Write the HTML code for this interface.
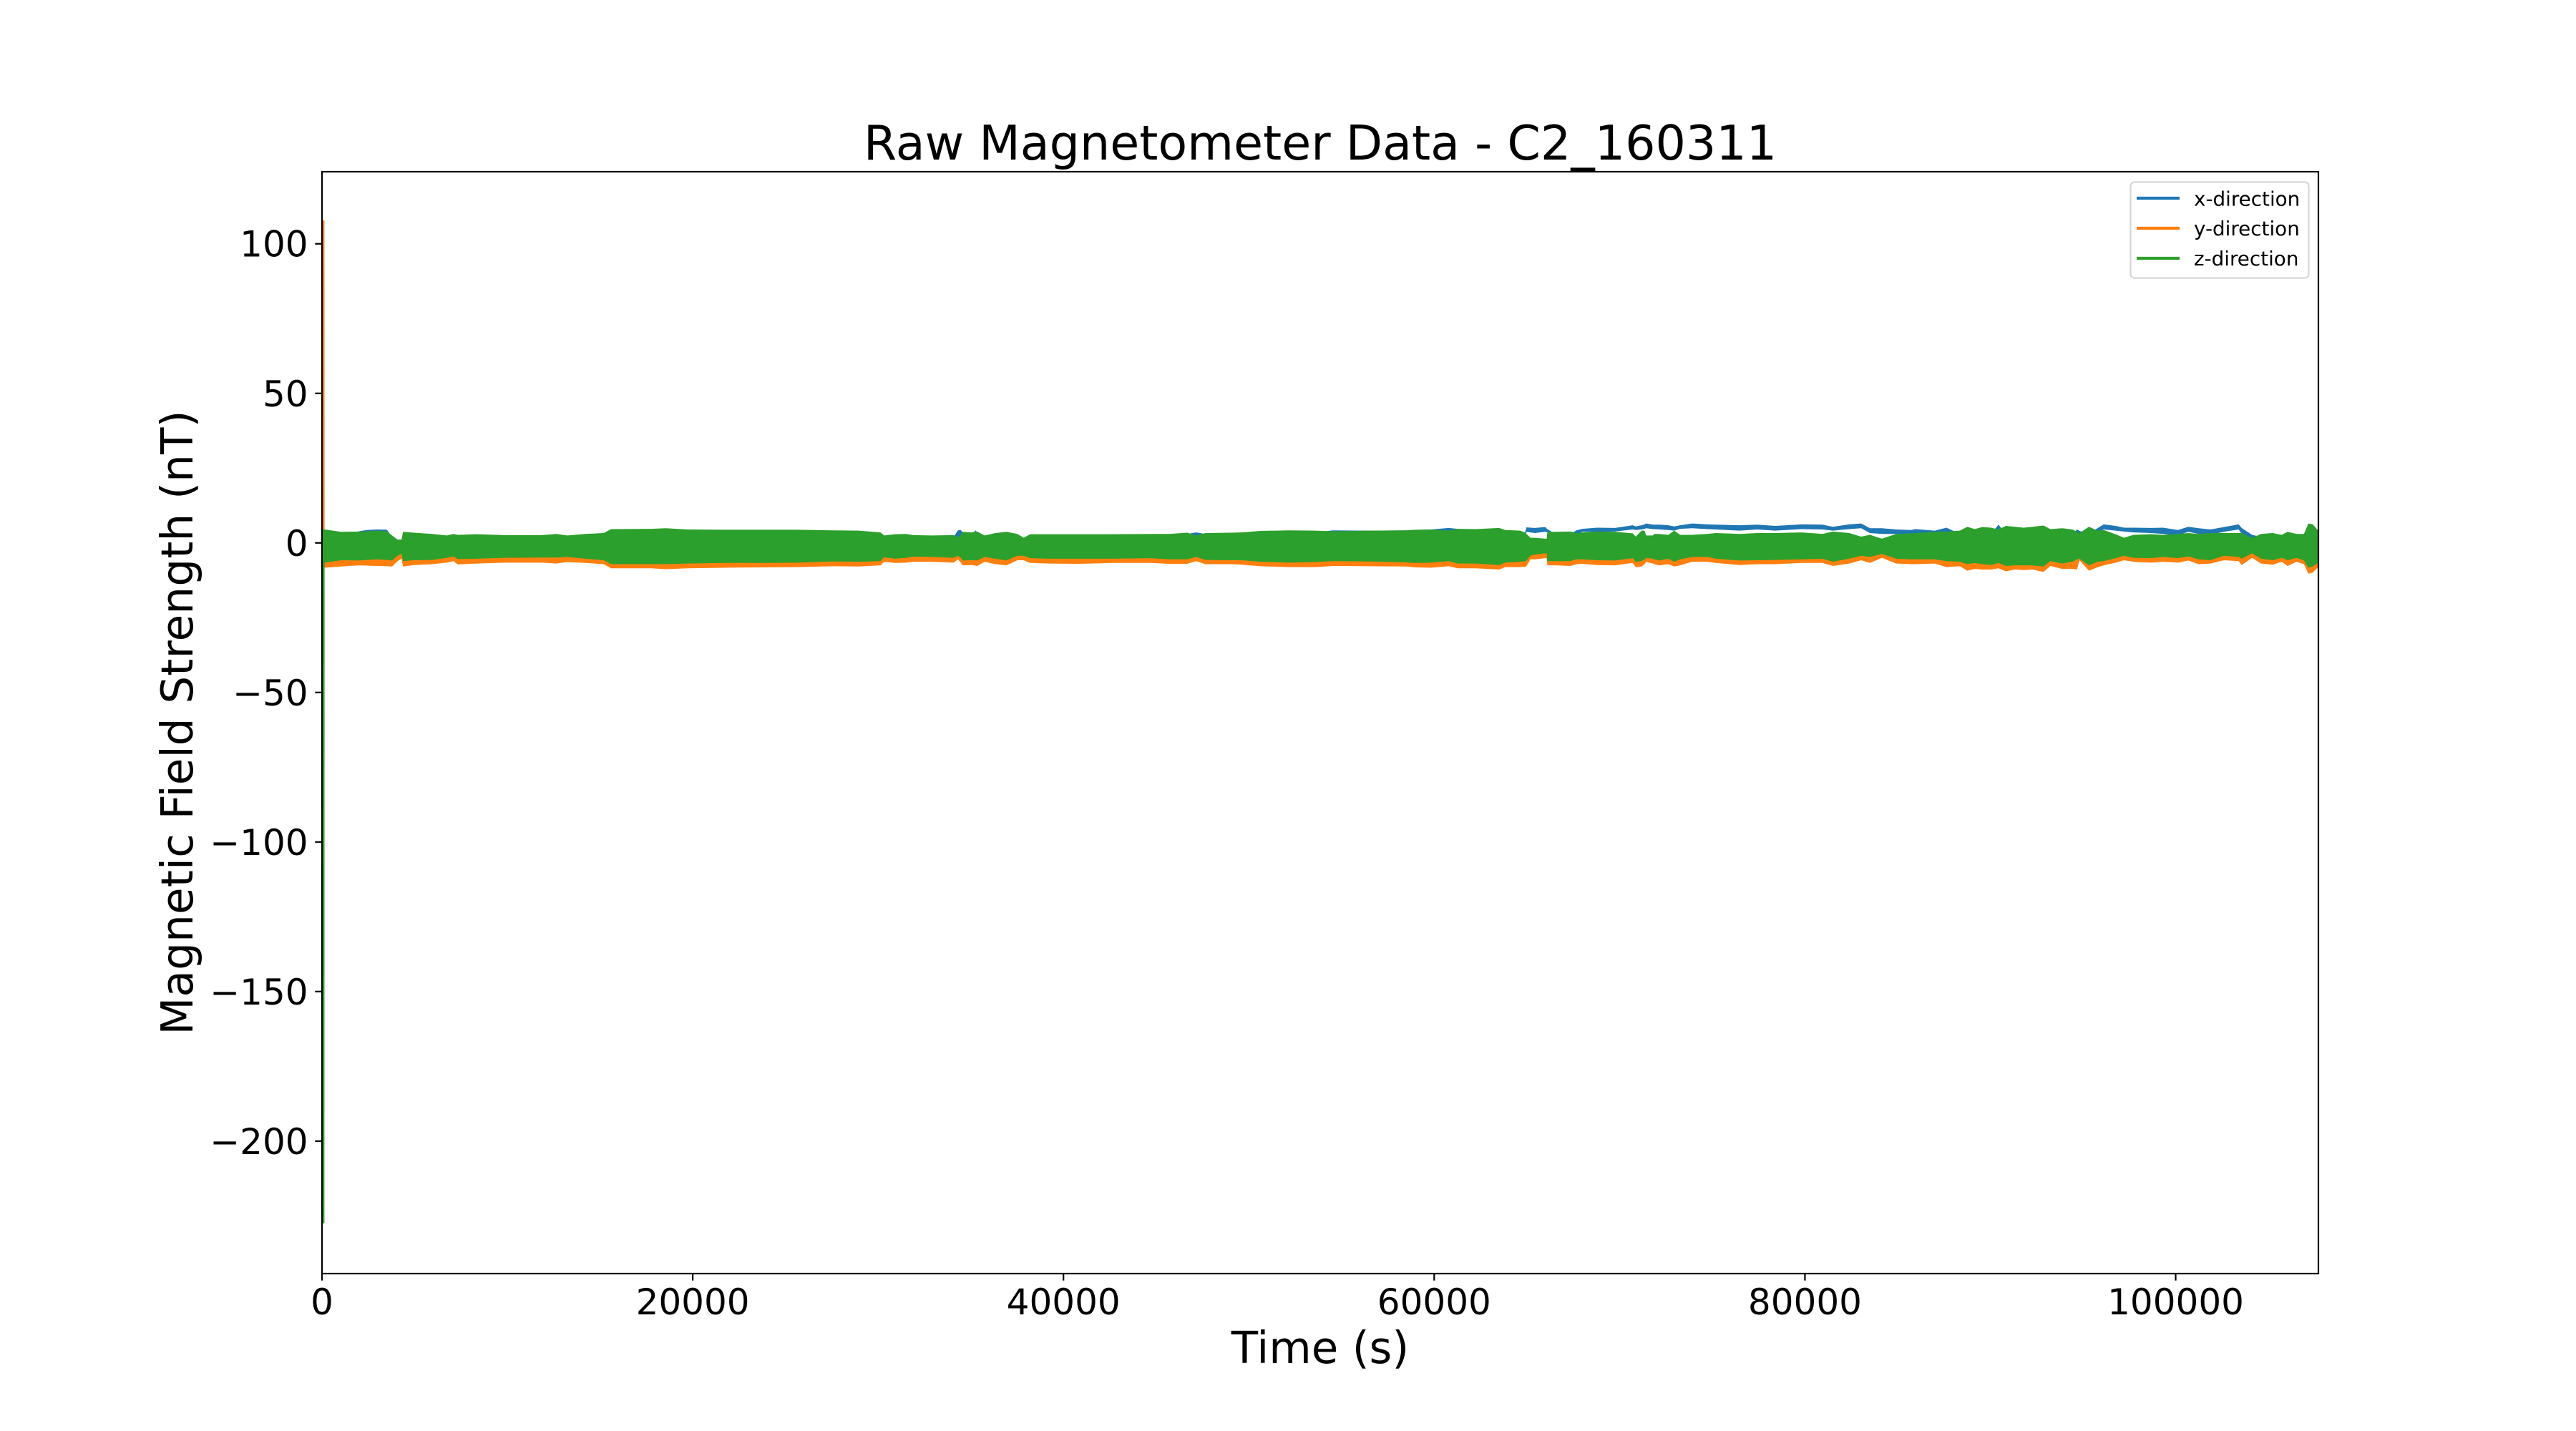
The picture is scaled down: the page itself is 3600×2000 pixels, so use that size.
<!DOCTYPE html>
<html>
<head>
<meta charset="utf-8">
<title>Raw Magnetometer Data - C2_160311</title>
<style>
html,body{margin:0;padding:0;background:#fff;}
svg{display:block;}
text{font-family:"DejaVu Sans",sans-serif;fill:#000;}
</style>
</head>
<body>
<svg id="chart" xmlns="http://www.w3.org/2000/svg" width="3600" height="2000" viewBox="0 0 3600 2000">
  <rect x="0" y="0" width="3600" height="2000" fill="#fff"/>
  <defs><clipPath id="plot-clip"><rect x="450" y="240" width="2790" height="1540"/></clipPath></defs>
  <g id="series" clip-path="url(#plot-clip)"></g>
  <rect x="450" y="240" width="2790" height="1540" fill="none" stroke="#000" stroke-width="2.2"/>
  <g id="ticks"></g>
  <text x="1845" y="223" font-size="66.67" text-anchor="middle">Raw Magnetometer Data - C2_160311</text>
  <text x="1845" y="1905" font-size="61.1" text-anchor="middle">Time (s)</text>
  <text x="269" y="1010" font-size="61.1" text-anchor="middle" textLength="873" lengthAdjust="spacing" transform="rotate(-90 269 1010)">Magnetic Field Strength (nT)</text>
  <g>
    <rect x="2977.5" y="254.5" width="249" height="134" rx="5.6" ry="5.6" fill="#fff" fill-opacity="0.8" stroke="#ccc" stroke-opacity="0.8" stroke-width="2.2"/>
    <line x1="2986" y1="277" x2="3046" y2="277" stroke="#1f77b4" stroke-width="4.17"/>
    <text x="3066" y="287.5" font-size="27.8">x-direction</text>
    <line x1="2986" y1="319" x2="3046" y2="319" stroke="#ff7f0e" stroke-width="4.17"/>
    <text x="3066" y="329" font-size="27.8">y-direction</text>
    <line x1="2986" y1="361" x2="3046" y2="361" stroke="#2ca02c" stroke-width="4.17"/>
    <text x="3066" y="371" font-size="27.8">z-direction</text>
  </g>
</svg>
<script>
const xTickValues = [0,20000,40000,60000,80000,100000];
const yTickValues = [100,50,0,-50,-100,-150,-200];

const times = [
0,130,140,1024,2008,2400,2993,3500,3780,4075,
4292,4371,4962,5946,6734,7088,7324,8309,9884,11853,
12641,13231,14216,15200,15594,17760,18548,19729,21698,23667,
25636,27605,28950,30131,30328,30919,31510,31904,32888,34069,
34306,34463,34562,35054,35250,35349,35743,36334,36924,37515,
37850,38204,39189,40764,42733,44702,45687,46670,47163,47656,
49034,49625,50609,52184,53563,54547,56516,58485,58977,59830,
60790,61270,62230,63510,63830,64630,64900,64982,65190,65430,
65990,66070,66102,66550,67350,67670,67990,68790,69750,70710,
70870,71190,71350,71430,71800,71860,72150,72630,72950,73270,
73910,74710,75190,76470,77430,78390,79830,80950,81510,82390,
83030,83510,84150,84920,85720,85960,87000,87640,88360,88760,
89160,89560,90040,90440,90840,91320,91800,92280,92870,93240,
93880,94440,94680,94810,95320,95800,96120,96760,97210,97720,
98680,99320,100120,100680,101240,101880,102600,103400,103560,104120,
104600,105240,105720,106040,106520,106920,107160,107400,107690];

const xUpper = [
2,2,2,2,3.9,4.3,4.5,4.4,2,0.5,
0.5,2,2,2,2,2,2,2,2,2,
2,2,2,2,2,2,2,2,2,2,
2,2,2,2,2,2,2,2,2,2,
4.2,4.3,3.5,2.5,4.2,3.5,2,2,2,2,
0.5,2,2,2,2,2,2,3,3.5,3,
2,2,3,3,3.5,4.2,4.1,4.2,4.3,4.5,
5,4.7,4,4,3.5,3.5,3.5,5.2,5.1,5.0,
5.3,4.8,4.6,3,3,4.2,4.7,5.1,5.0,5.9,
5.5,5.9,6.2,6.5,6.1,6.1,6.1,5.9,5.5,5.9,
6.5,6.2,6.1,5.9,6.1,5.7,6.2,6.1,5.4,6.2,
6.5,4.9,4.9,4.5,4.3,4.6,4.1,5.1,3,3,
3,3,3,6.1,3,3,3,3,3,3,
3,3,4.5,4,3,5,6.2,5.7,5.1,5.1,
5.0,5.1,4.3,5.4,4.9,4.5,5.3,6.2,5.0,2.7,
2,2,2,2,2,2,2,2,2];

const xLower = [
0.5,0.5,0.5,0.5,3,3,3.2,3,0.5,-1,
-1,0.5,0.5,0.5,0.5,0.5,0.5,0.5,0.5,0.5,
0.5,0.5,0.5,0.5,0.5,0.5,0.5,0.5,0.5,0.5,
0.5,0.5,0.5,0.5,0.5,0.5,0.5,0.5,0.5,0.5,
2,2,1.5,1,2.5,2,0.5,0.5,0.5,0.5,
-1,0.5,0.5,0.5,0.5,0.5,0.5,1.5,2.2,1.5,
0.5,0.5,1.5,1.5,2,2.8,2.7,2.8,2.8,3.3,
3.3,3,2.5,2.5,2,2,2,3.7,3.5,3.3,
3.7,3.5,3.7,1.5,1.5,2.7,3.7,3.7,3.8,4.5,
4.3,4.5,4.7,4.9,4.6,4.6,4.5,4.3,4.1,4.7,
4.9,4.6,4.5,4.1,4.5,4.1,4.6,4.5,4.1,4.6,
4.9,3.3,3.0,3.0,3.0,3.0,2.9,3.7,1.5,1.5,
1.5,1.5,1.5,4.6,1.5,1.5,1.5,1.5,1.5,1.5,
1.5,1.5,3,2.5,1.5,3.5,4.5,4.1,3.8,3.5,
3.3,3.0,2.5,3.7,3.0,2.7,3.7,4.5,3.0,1.3,
0.5,0.5,0.5,0.5,0.5,0.5,0.5,0.5,0.5];

const yUpper = [
107.8,107.8,-5.6,-4.8,-4.9,-4.7,-4.5,-4.7,-4.9,-3.3,
-2.7,-5.1,-4.8,-4.7,-4.0,-3.5,-4.4,-4.3,-4.0,-3.9,
-3.9,-3.7,-4.3,-4.8,-6.1,-6.1,-6.1,-5.9,-5.7,-5.7,
-5.6,-5.2,-5.3,-5.1,-3.8,-4.3,-4.0,-3.6,-3.7,-4.0,
-3.3,-4,-4.9,-4.8,-4.8,-4.9,-3.7,-4.3,-4.9,-3.3,
-3.3,-4.1,-4.3,-4.3,-4.3,-4.1,-4.5,-4.5,-3.7,-4.7,
-4.8,-4.8,-5.3,-5.6,-5.4,-5.1,-5.2,-5.5,-5.7,-5.6,
-5.1,-5.9,-5.9,-6.4,-5.6,-5.3,-5.2,-4.9,-3.3,-2.9,
-2.5,-2.5,-5.1,-5.1,-5.1,-4.5,-4.5,-4.8,-4.9,-4.1,
-5.3,-5.1,-4.5,-4.0,-4.3,-4.5,-4.9,-4.3,-5.3,-4.5,
-3.7,-3.7,-4.3,-4.9,-4.8,-4.7,-4.5,-4.3,-5.3,-4.3,
-3.3,-3.7,-2.7,-4.3,-4.5,-4.5,-4.5,-5.1,-5.3,-6.1,
-5.7,-6.1,-6.4,-5.7,-6.7,-6.5,-6.5,-6.5,-6.9,-5.1,
-5.9,-5.3,-4.5,-4.3,-6.5,-5.3,-5.1,-4.1,-3.3,-4.0,
-4.1,-3.7,-4.1,-3.5,-4.5,-4.8,-3.3,-3.7,-4.3,-2.5,
-4.3,-4.8,-4.0,-4.8,-4.0,-4.9,-7.3,-6.9,-5.6];

const yLower = [
-8.3,-8.3,-8.3,-7.9,-7.5,-7.6,-7.7,-7.8,-7.9,-6.1,
-5.3,-7.9,-7.4,-7.1,-6.6,-6.1,-7.2,-6.9,-6.6,-6.6,
-6.9,-6.4,-6.7,-7.1,-8.5,-8.5,-8.8,-8.5,-8.3,-8.2,
-8.1,-7.8,-7.9,-7.5,-6.3,-6.7,-6.6,-6.3,-6.3,-6.6,
-5.5,-6.6,-7.5,-7.4,-7.6,-7.7,-6.3,-7.1,-7.5,-5.8,
-5.8,-6.7,-6.9,-7.0,-6.7,-6.7,-7.0,-7.0,-6.1,-7.1,
-7.1,-7.3,-7.8,-8.1,-8.1,-7.7,-7.8,-7.9,-8.2,-8.3,
-7.8,-8.5,-8.5,-8.9,-8.1,-8.1,-8,-7.7,-5.5,-5.5,
-5.1,-5.1,-7.5,-7.5,-7.7,-7.1,-7.0,-7.4,-7.5,-6.7,
-8.1,-7.9,-7.1,-6.3,-6.9,-7.1,-7.5,-7.1,-7.9,-7.5,
-6.3,-6.3,-6.7,-7.4,-7.1,-7.1,-6.7,-6.7,-7.7,-6.9,
-5.8,-6.7,-5.0,-6.9,-7.1,-7.1,-6.9,-8.1,-7.8,-9.3,
-8.7,-8.9,-8.9,-8.5,-9.5,-8.9,-9.1,-8.9,-9.7,-7.7,
-8.7,-8.7,-8.9,-5.8,-9.3,-8.1,-7.5,-6.6,-5.8,-6.3,
-6.6,-6.3,-6.6,-5.9,-7.1,-6.9,-5.8,-6.1,-7.4,-5.0,
-6.9,-7.3,-6.3,-7.7,-6.3,-7.1,-10.3,-9.9,-8.1];

const zUpper = [
4.5,4.5,4.5,3.7,3.8,3.9,4.1,3.9,2.5,1.1,
1.1,3.7,3.4,3.0,2.5,3.0,2.7,2.9,2.6,2.6,
3.0,2.5,3.0,3.3,4.6,4.7,4.9,4.5,4.4,4.4,
4.4,4.2,4.1,3.5,2.5,2.9,3.0,2.6,2.5,2.6,
1.9,2.8,3.7,3.5,3.7,3.8,2.5,3.3,3.7,3.0,
1.7,2.9,2.9,2.9,2.9,3.0,3.0,3.4,2.5,3.3,
3.4,3.5,4.0,4.2,4.1,3.9,4.1,4.2,4.4,4.5,
4.1,4.7,4.6,5.0,4.3,4.1,3.5,3.0,1.7,1.7,
1.4,1.4,3.7,3.7,3.8,3.3,3.5,3.8,3.7,3.2,
2.1,4.1,4.1,2.5,2.5,3.0,3.0,2.7,4.1,2.7,
2.7,3.0,3.3,3.0,3.3,3.3,3.5,3.0,3.8,3.3,
2.1,2.7,1.4,3.0,3.2,3.3,3.7,3.8,4.1,5.4,
4.6,5.3,5.1,4.5,5.7,5.4,5.1,5.4,5.8,4.6,
4.9,4.5,3.7,3.3,5.4,4.1,4.3,2.9,1.7,2.7,
2.9,2.7,3.0,3.3,3.0,3.3,3.3,3.3,3.3,1.7,
3.0,3.3,2.7,3.7,3.0,3.0,6.5,6.2,4.1];

const zLower = [
-227.5,-227.5,-6.6,-5.8,-5.9,-5.7,-5.5,-5.7,-5.9,-4.3,
-3.7,-6.1,-5.8,-5.7,-5.0,-4.5,-5.4,-5.3,-5.0,-4.9,
-4.9,-4.7,-5.3,-5.8,-7.1,-7.1,-7.1,-6.9,-6.7,-6.7,
-6.6,-6.2,-6.3,-6.1,-4.8,-5.3,-5.0,-4.6,-4.7,-5.0,
-4.3,-5,-5.9,-5.8,-5.8,-5.9,-4.7,-5.3,-5.9,-4.3,
-4.3,-5.1,-5.3,-5.3,-5.3,-5.1,-5.5,-5.5,-4.7,-5.7,
-5.8,-5.8,-6.3,-6.6,-6.4,-6.1,-6.2,-6.5,-6.7,-6.6,
-6.1,-6.9,-6.9,-7.4,-6.6,-6.3,-6.2,-5.9,-4.3,-3.9,
-3.5,-3.5,-6.1,-6.1,-6.1,-5.5,-5.5,-5.8,-5.9,-5.1,
-6.3,-6.1,-5.5,-5.0,-5.3,-5.5,-5.9,-5.3,-6.3,-5.5,
-4.7,-4.7,-5.3,-5.9,-5.8,-5.7,-5.5,-5.3,-6.3,-5.3,
-4.3,-4.7,-3.7,-5.3,-5.5,-5.5,-5.5,-6.1,-6.3,-7.1,
-6.7,-7.1,-7.4,-6.7,-7.7,-7.5,-7.5,-7.5,-7.9,-6.1,
-6.9,-6.3,-5.5,-5.3,-7.5,-6.3,-6.1,-5.1,-4.3,-5.0,
-5.1,-4.7,-5.1,-4.5,-5.5,-5.8,-4.3,-4.7,-5.3,-3.5,
-5.3,-5.8,-5.0,-5.8,-5.0,-5.9,-8.3,-7.9,-6.6];

const plotLeft = 450, plotRight = 3240, plotTop = 240, plotBottom = 1780;
const xMin = 0, xMax = 107700, yMin = -244.3, yMax = 124.1;
const NS = 'http://www.w3.org/2000/svg';

function xScale(v) { return plotLeft + (v - xMin) / (xMax - xMin) * (plotRight - plotLeft); }
function yScale(v) { return plotBottom - (v - yMin) / (yMax - yMin) * (plotBottom - plotTop); }

function bandPoints(upper, lower) {
  const pts = [];
  for (let i = 0; i < times.length; i++) {
    pts.push(xScale(times[i]).toFixed(2) + ',' + yScale(upper[i]).toFixed(2));
  }
  for (let i = times.length - 1; i >= 0; i--) {
    pts.push(xScale(times[i]).toFixed(2) + ',' + yScale(lower[i]).toFixed(2));
  }
  return pts.join(' ');
}

const seriesLayer = document.getElementById('series');

const xBand = document.createElementNS(NS, 'polygon');


xBand.setAttribute('points', bandPoints(xUpper, xLower));
xBand.setAttribute('fill', '#1f77b4');
seriesLayer.appendChild(xBand);

const yBand = document.createElementNS(NS, 'polygon');


yBand.setAttribute('points', bandPoints(yUpper, yLower));
yBand.setAttribute('fill', '#ff7f0e');
seriesLayer.appendChild(yBand);

const zBand = document.createElementNS(NS, 'polygon');


zBand.setAttribute('points', bandPoints(zUpper, zLower));
zBand.setAttribute('fill', '#2ca02c');
seriesLayer.appendChild(zBand);

const tickLayer = document.getElementById('ticks');

xTickValues.forEach(function (v) {
  const px = xScale(v);
  const mark = document.createElementNS(NS, 'line');
  
  
  mark.setAttribute('x1', px);
  mark.setAttribute('x2', px);
  mark.setAttribute('y1', plotBottom);
  mark.setAttribute('y2', plotBottom + 9.7);
  mark.setAttribute('stroke', '#000');
  mark.setAttribute('stroke-width', '2.2');
  tickLayer.appendChild(mark);
  const label = document.createElementNS(NS, 'text');
  
  
  label.setAttribute('x', px);
  label.setAttribute('y', plotBottom + 57);
  label.setAttribute('font-size', '50');
  label.setAttribute('text-anchor', 'middle');
  label.textContent = String(v);
  tickLayer.appendChild(label);
});

yTickValues.forEach(function (v) {
  const py = yScale(v);
  const mark = document.createElementNS(NS, 'line');
  
  
  mark.setAttribute('x1', plotLeft - 9.7);
  mark.setAttribute('x2', plotLeft);
  mark.setAttribute('y1', py);
  mark.setAttribute('y2', py);
  mark.setAttribute('stroke', '#000');
  mark.setAttribute('stroke-width', '2.2');
  tickLayer.appendChild(mark);
  const label = document.createElementNS(NS, 'text');
  
  
  label.setAttribute('x', plotLeft - 19.4);
  label.setAttribute('y', py + 18);
  label.setAttribute('font-size', '50');
  label.setAttribute('text-anchor', 'end');
  label.textContent = (v < 0 ? '\u2212' + Math.abs(v) : String(v));
  tickLayer.appendChild(label);
});
</script>
</body>
</html>
